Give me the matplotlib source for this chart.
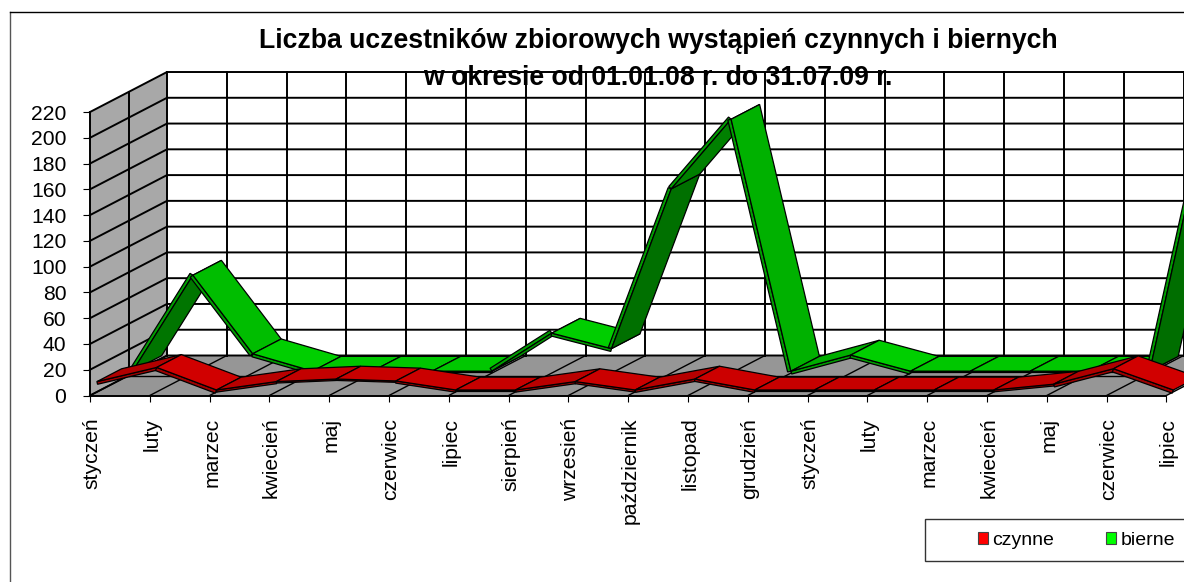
import numpy as np
import matplotlib
matplotlib.use('Agg')
import matplotlib.pyplot as plt
from matplotlib.lines import Line2D
from matplotlib.patches import Patch, Polygon, Rectangle
from matplotlib.transforms import ScaledTranslation

plt.rcParams['font.family'] = ['Liberation Sans', 'DejaVu Sans']

months = ['styczeń', 'luty', 'marzec', 'kwiecień', 'maj', 'czerwiec', 'lipiec',
          'sierpień', 'wrzesień', 'październik', 'listopad', 'grudzień',
          'styczeń', 'luty', 'marzec', 'kwiecień', 'maj', 'czerwiec', 'lipiec']
czynne = [8, 19, 1.5, 8, 10, 8.5, 1.5, 1.5, 8, 1.5, 10, 1.5, 1.5, 1.5, 1.5, 1.5, 6, 18, 1.5]
bierne = [2, 76, 15, 1.5, 1.5, 1.5, 1.5, 31, 19, 143, 197, 1.5, 14, 1.5, 1.5, 1.5, 1.5, 1.5, 211]
y_ticks = list(range(0, 221, 20))

W, H = 1184, 582
X0, X_STEP = 90, 59.8     # pixel position of the first month, pixels per month
Y0, Y_STEP = 395.5, 1.2886  # pixel position of value 0, pixels per unit
DEPTH_X = 77 / X_STEP     # shift of the back wall, in axis units
DEPTH_Y = 40 / Y_STEP


def project(i, v, z):
    # fake 3d: depth z (0 front, 1 back) is a shear of the data coordinates
    return i + z * DEPTH_X, v + z * DEPTH_Y


def shade(base, angle):
    k = np.interp(angle, [-90, -70, -20, 0, 20, 60, 90],
                  [0.68, 0.70, 0.82, 0.78, 0.65, 0.45, 0.42])
    return tuple(c * k for c in base)


def draw_ribbon(ax, values, base, z_front, z_back, zorder):
    for i in range(len(values) - 1):
        v1, v2 = values[i], values[i + 1]
        dx = X_STEP
        dy = (v2 - v1) * Y_STEP
        angle = np.degrees(np.arctan2(dy, dx))

        # edge strip sits on the side of the front edge away from the depth
        nx, ny = -dy, dx
        norm = np.hypot(nx, ny)
        nx, ny = nx / norm, ny / norm
        if nx * 77 + ny * 40 > 0:
            nx, ny = -nx, -ny
        width = 1.2 + 2.2 * min(abs(dy) / 20, 1)
        off_x = nx * width / X_STEP
        off_y = ny * width / Y_STEP

        front = [project(i, v1, z_front), project(i + 1, v2, z_front)]
        back = [project(i + 1, v2, z_back), project(i, v1, z_back)]
        strip = [front[0], front[1],
                 (front[1][0] + off_x, front[1][1] + off_y),
                 (front[0][0] + off_x, front[0][1] + off_y)]
        ax.add_patch(Polygon(strip, closed=True, facecolor=tuple(c * 0.62 for c in base),
                             edgecolor='black', linewidth=0.9, zorder=zorder))
        ax.add_patch(Polygon(front + back, closed=True, facecolor=shade(base, angle),
                             edgecolor='black', linewidth=0.9, zorder=zorder))
        zorder += 0.01


fig = plt.figure(figsize=(W / 100, H / 100), dpi=100)
ax = fig.add_axes([0, 0, 1, 1])
ax.set_xlim(-X0 / X_STEP, (W - X0) / X_STEP)
ax.set_ylim((Y0 - H) / Y_STEP, Y0 / Y_STEP)
ax.patch.set_visible(False)

last = len(months) - 1
top = y_ticks[-1]

# walls and floor
ax.add_patch(Polygon([project(0, 0, 0), project(0, top, 0), project(0, top, 1), project(0, 0, 1)],
                     closed=True, facecolor='#a8a8a8', edgecolor='none', zorder=1))
ax.add_patch(Polygon([project(0, 0, 0), project(last, 0, 0), project(last, 0, 1), project(0, 0, 1)],
                     closed=True, facecolor='#969696', edgecolor='none', zorder=1))

grid = dict(color='black', linewidth=1.4, zorder=1.5, solid_capstyle='projecting')
floor_grid = dict(color='black', linewidth=1.0, zorder=1.5)
for v in y_ticks:
    xs, ys = zip(project(0, v, 0), project(0, v, 1), project(last, v, 1))
    ax.plot(xs, ys, **grid)
for i in range(len(months)):
    xs, ys = zip(project(i, 0, 1), project(i, top, 1))
    ax.plot(xs, ys, **grid)
    xs, ys = zip(project(i, 0, 0), project(i, 0, 1))
    ax.plot(xs, ys, **floor_grid)
xs, ys = zip(project(0, 0, 0.5), project(0, top, 0.5))
ax.plot(xs, ys, **grid)
xs, ys = zip(project(0, 0, 0.5), project(last, 0, 0.5))
ax.plot(xs, ys, **floor_grid)

draw_ribbon(ax, bierne, (0, 1, 0), 0.56, 0.93, 3)
draw_ribbon(ax, czynne, (1, 0, 0), 0.09, 0.41, 4)

# axes
for name in ['top', 'right']:
    ax.spines[name].set_visible(False)
ax.spines['left'].set_position(('data', 0))
ax.spines['bottom'].set_position(('data', 0))
ax.spines['left'].set_bounds(0, top)
ax.spines['bottom'].set_bounds(0, last)
ax.spines['left'].set_linewidth(1.4)
ax.spines['bottom'].set_linewidth(1.4)
ax.set_yticks(y_ticks)
ax.set_xticks(range(len(months)))
ax.set_xticklabels(months, rotation=90, ha='center', va='top')
ax.tick_params(axis='y', direction='out', length=5, width=0.8, pad=12, labelsize=15.2)
ax.tick_params(axis='x', direction='out', length=4.5, width=0.8, pad=11.5, labelsize=15.2)
shift = ScaledTranslation(2 / 100, 0, fig.dpi_scale_trans)
for label in ax.get_xticklabels():
    label.set_transform(label.get_transform() + shift)

# chart frame, runs off the right and bottom edges
fig.add_artist(Line2D([10 / W, 10 / W], [0, 1 - 11.5 / H], color='#555555', linewidth=1.0))
fig.add_artist(Line2D([10 / W, 1], [1 - 11.5 / H, 1 - 11.5 / H], color='black', linewidth=1.0))

fig.text(658 / W, 1 - 41 / H, 'Liczba uczestników zbiorowych wystąpień czynnych i biernych',
         ha='center', va='center', fontsize=19.2, fontweight='bold', zorder=10)
fig.text(658 / W, 1 - 78 / H, 'w okresie od 01.01.08 r. do 31.07.09 r.',
         ha='center', va='center', fontsize=19.2, fontweight='bold', zorder=10)

# legend box also runs off the right edge
fig.add_artist(Rectangle((925 / W, 1 - 561 / H), 300 / W, 42.5 / H, transform=fig.transFigure,
                         facecolor='white', edgecolor='#333333', linewidth=1.0, zorder=5))
handles = [Patch(facecolor='#ff0000', edgecolor='#444444', linewidth=0.8),
           Patch(facecolor='#00ff00', edgecolor='#444444', linewidth=0.8)]
leg = fig.legend(handles, ['czynne', 'bierne'], loc='center left', ncol=2, frameon=False,
                 bbox_to_anchor=(978 / W, 1 - 540.5 / H), bbox_transform=fig.transFigure,
                 fontsize=14, handlelength=0.52, handleheight=0.52, handletextpad=0.22,
                 columnspacing=2.67, borderpad=0, borderaxespad=0)
leg.set_zorder(6)

fig.savefig('out.png', dpi=100)
